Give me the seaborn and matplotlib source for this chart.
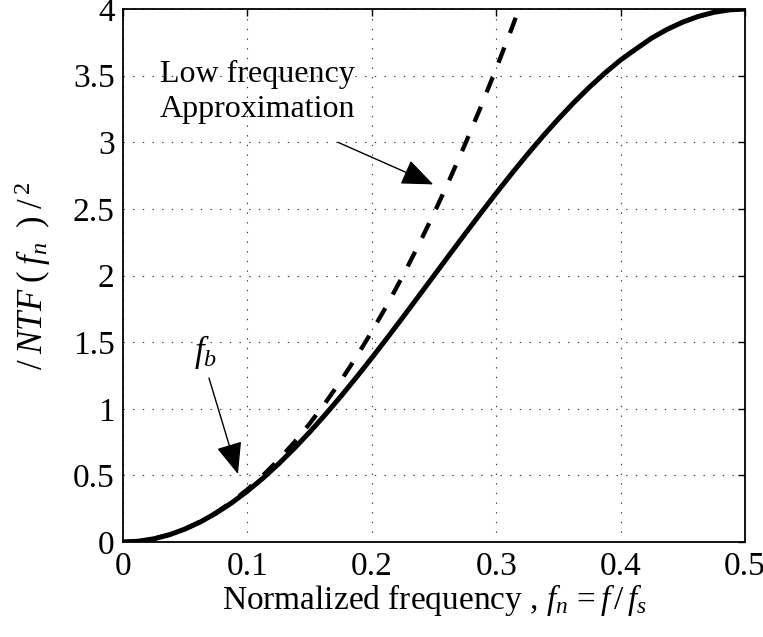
import matplotlib
matplotlib.use("Agg")
import matplotlib.pyplot as plt
import seaborn as sns
import pandas as pd

# |NTF(f_n)|^2 of a first-order noise shaper, sampled every 0.0125
freq = [0.0, 0.0125, 0.025, 0.0375, 0.05, 0.0625, 0.075, 0.0875, 0.1, 0.1125,
        0.125, 0.1375, 0.15, 0.1625, 0.175, 0.1875, 0.2, 0.2125, 0.225, 0.2375,
        0.25, 0.2625, 0.275, 0.2875, 0.3, 0.3125, 0.325, 0.3375, 0.35, 0.3625,
        0.375, 0.3875, 0.4, 0.4125, 0.425, 0.4375, 0.45, 0.4625, 0.475, 0.4875, 0.5]
ntf_sq = [0.0, 0.0062, 0.0246, 0.0553, 0.0979, 0.1522, 0.218, 0.2947, 0.382, 0.4792,
          0.5858, 0.7011, 0.8244, 0.955, 1.092, 1.2346, 1.382, 1.5331, 1.6871, 1.8431,
          2.0, 2.1569, 2.3129, 2.4668, 2.618, 2.7654, 2.908, 3.045, 3.1756, 3.2989,
          3.4142, 3.5205, 3.618, 3.7013, 3.7822, 3.8478, 3.9021, 3.9448, 3.9754, 3.9938, 4.0]

# low-frequency approximation, rising until it leaves the axes at 4
approx_freq = [0.0, 0.0125, 0.025, 0.0375, 0.05, 0.0625, 0.075, 0.0875, 0.1, 0.1125,
               0.125, 0.1375, 0.15, 0.1625, 0.175, 0.1875, 0.2, 0.2125, 0.225, 0.2375,
               0.25, 0.2625, 0.275, 0.2875, 0.3, 0.3125, 0.3183]
approx_val = [0.0, 0.0062, 0.0247, 0.0555, 0.0987, 0.1542, 0.2221, 0.3023, 0.3948, 0.4996,
              0.6169, 0.7464, 0.8883, 1.0425, 1.209, 1.3879, 1.5791, 1.7827, 1.9986, 2.2268,
              2.4674, 2.7203, 2.9855, 3.2631, 3.5531, 3.8553, 4.0]

x_ticks = [0.0, 0.1, 0.2, 0.3, 0.4, 0.5]
x_tick_labels = ["0", "0.1", "0.2", "0.3", "0.4", "0.5"]
y_ticks = [0.0, 0.5, 1.0, 1.5, 2.0, 2.5, 3.0, 3.5, 4.0]
y_tick_labels = ["0", "0.5", "1", "1.5", "2", "2.5", "3", "3.5", "4"]

sns.set_theme(style="white")
plt.rcParams["font.family"] = ["Liberation Serif", "DejaVu Serif"]
plt.rcParams["mathtext.fontset"] = "custom"
plt.rcParams["mathtext.rm"] = "Liberation Serif"
plt.rcParams["mathtext.it"] = "Liberation Serif:italic"
plt.rcParams["mathtext.bf"] = "Liberation Serif:bold"

FS_TICK = 24
FS_LABEL = 24
FS_NOTE = 23

fig = plt.figure(figsize=(7.63, 6.37), dpi=100)
ax = fig.add_axes([0.1612, 0.1491, 0.8152, 0.8367])

df = pd.DataFrame({"f": freq, "ntf": ntf_sq})
df_ap = pd.DataFrame({"f": approx_freq, "v": approx_val})

sns.lineplot(data=df, x="f", y="ntf", color="black", linewidth=3.6, ax=ax,
             solid_capstyle="butt", solid_joinstyle="round", zorder=3)
sns.lineplot(data=df_ap, x="f", y="v", color="black", linewidth=3.1, ax=ax, zorder=4)
dash_line = ax.lines[-1]
dash_line.set_dashes((3.8, 3.6))
dash_line.set_dash_capstyle("butt")

ax.set_xlim(0, 0.5)
ax.set_ylim(0, 4)
ax.set_xticks(x_ticks)
ax.set_xticklabels(x_tick_labels)
ax.set_yticks(y_ticks)
ax.set_yticklabels(y_tick_labels)

ax.grid(True, color="#333333", linestyle=(0, (1.2, 7.5)), linewidth=0.8)
ax.tick_params(axis="both", direction="in", length=5, width=1.0, labelsize=FS_TICK,
               top=True, right=True, color="black", labelcolor="black")
ax.tick_params(axis="x", pad=7)
ax.tick_params(axis="y", pad=6)
for sp in ax.spines.values():
    sp.set_visible(True)
    sp.set_color("black")
    sp.set_linewidth(1.3)

ax.set_xlabel(r"Normalized frequency , $f_n\,=f\,/\,f_s$", fontsize=FS_LABEL,
              color="black", labelpad=0)
ax.set_ylabel(r"$/\;NTF\;(\;f_n\;\;)\;/^{\;2}$", fontsize=FS_LABEL + 1, color="black",
              labelpad=14)

# annotations
ax.text(0.0297, 3.454, "Low frequency", fontsize=FS_NOTE, color="black",
        va="baseline", ha="left")
ax.text(0.0297, 3.19, "Approximation", fontsize=FS_NOTE, color="black",
        va="baseline", ha="left")
ax.annotate("", xy=(0.2494, 2.684), xytext=(0.1728, 3.0),
            arrowprops=dict(arrowstyle="-|>,head_length=1.1,head_width=0.45",
                            color="black", lw=1.0, mutation_scale=18,
                            shrinkA=0, shrinkB=0))
ax.text(0.066, 1.426, r"$f_b$", fontsize=FS_NOTE + 2, color="black",
        ha="center", va="center")
ax.annotate("", xy=(0.0924, 0.51), xytext=(0.0691, 1.231),
            arrowprops=dict(arrowstyle="-|>,head_length=1.1,head_width=0.45",
                            color="black", lw=1.0, mutation_scale=18,
                            shrinkA=0, shrinkB=0))

fig.savefig("out.png", dpi=100, facecolor="white")
